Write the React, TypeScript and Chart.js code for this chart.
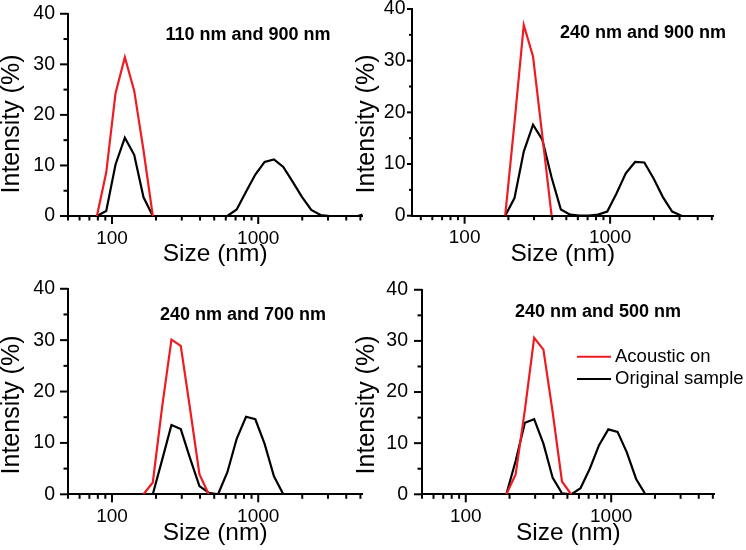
import React, { useEffect, useRef } from 'react';
import { Chart, registerables } from 'chart.js';

Chart.register(...registerables);

const FONT = '"Liberation Sans", Arial, sans-serif';
const RED = '#ee1c22';

// DLS size bins (nm)
const sizeBins = [
  78.82, 91.28, 105.7, 122.4, 141.8, 164.2, 190.1, 220.2, 255.0, 295.3,
  342.0, 396.1, 458.7, 531.2, 615.1, 712.4, 825.0, 955.4, 1106, 1281,
  1484, 1718, 1990, 2305, 2669, 3091, 3580, 4145, 4801, 5560,
];

// Intensity (%) per bin; null = not plotted
const p1Acoustic = [0, 8.6, 24.3, 31.4, 24.8, 13.0, 0, null, null, null, null, null, null, null, null, null, null, null, null, null, null, null, null, null, null, null, null, null, null, null];
const p1Original = [0, 1.0, 10.2, 15.5, 12.1, 3.7, 0, 0, 0, 0, 0, 0, 0, 0, 0, 1.3, 4.8, 8.2, 10.7, 11.2, 9.7, 6.8, 3.8, 1.2, 0.2, 0, 0, 0, 0, 0.6];

const p2Acoustic = [null, null, null, null, null, null, 0, 18.0, 36.9, 30.8, 15.5, 0, null, null, null, null, null, null, null, null, null, null, null, null, null, null, null, null, null, null];
const p2Original = [null, null, null, null, null, null, 0, 3.4, 12.4, 17.6, 14.7, 7.4, 1.2, 0.2, 0, 0, 0.2, 0.8, 4.3, 8.2, 10.4, 10.3, 7.2, 3.6, 0.8, 0, null, null, null, null];

const p3Acoustic = [null, null, null, null, null, 0, 2.3, 17.0, 30.1, 28.9, 16.6, 3.9, 0, null, null, null, null, null, null, null, null, null, null, null, null, null, null, null, null, null];
const p3Original = [null, null, null, null, null, null, 0, 6.7, 13.5, 12.7, 7.0, 1.6, 0.3, 0, 4.3, 10.8, 15.1, 14.6, 9.8, 3.5, 0, null, null, null, null, null, null, null, null, null];

const p4Acoustic = [null, null, null, null, null, null, 0, 3.9, 16.5, 30.6, 28.3, 16.0, 2.5, 0, null, null, null, null, null, null, null, null, null, null, null, null, null, null, null, null];
const p4Original = [null, null, null, null, null, null, 0, 6.5, 14.0, 14.7, 9.9, 3.2, 0.2, 0, 1.2, 5.0, 9.6, 12.7, 12.2, 8.2, 3.0, 0, null, null, null, null, null, null, null, null];

const panelTitles = ['110 nm and 900 nm', '240 nm and 900 nm', '240 nm and 700 nm', '240 nm and 500 nm'];
const seriesNames = ['Acoustic on', 'Original sample'];
const xAxisTitle = 'Size (nm)';
const yAxisTitle = 'Intensity (%)';

const xTickValues = [40, 50, 60, 70, 80, 90, 100, 200, 300, 400, 500, 600, 700, 800, 900, 1000, 2000, 3000, 4000, 5000];
const xTickLabels = [100, 1000];
const yTickLabels = [0, 10, 20, 30, 40];

const X_MAX = 5150;
const H = 275;

type PanelCfg = {
  left: number; top: number; w: number; xMin: number;
  area: { l: number; r: number; t: number; b: number };
  title: string; tx: number; ty: number; yTitleX: number; yTitleY: number; yPad: number;
  yTick: [number, number];
  acoustic: (number | null)[]; original: (number | null)[];
  legend: boolean;
};

const panels: PanelCfg[] = [
  { left: 0, top: 0, w: 373, xMin: 50, area: { l: 68, r: 362.3, t: 9, b: 216 }, title: panelTitles[0], tx: 248, ty: 34.7, yTitleX: 12.5, yTitleY: 124, yPad: 5, yTick: [8, 4.5], acoustic: p1Acoustic, original: p1Original, legend: false },
  { left: 350, top: 0, w: 396, xMin: 43.5, area: { l: 62, r: 363.7, t: 9, b: 215.7 }, title: panelTitles[1], tx: 293, ty: 33, yTitleX: 17.5, yTitleY: 124, yPad: -1.5, yTick: [5, 3], acoustic: p2Acoustic, original: p2Original, legend: false },
  { left: 0, top: 275, w: 373, xMin: 50, area: { l: 68, r: 362.3, t: 13.3, b: 219.3 }, title: panelTitles[2], tx: 243, ty: 40.5, yTitleX: 12.5, yTitleY: 130, yPad: 5, yTick: [8, 4.5], acoustic: p3Acoustic, original: p3Original, legend: false },
  { left: 350, top: 275, w: 396, xMin: 50, area: { l: 72, r: 364.7, t: 14, b: 219.3 }, title: panelTitles[3], tx: 248, ty: 37.5, yTitleX: 17.5, yTitleY: 130, yPad: 6, yTick: [8, 4.5], acoustic: p4Acoustic, original: p4Original, legend: true },
];

const toPoints = (vals: (number | null)[]) => sizeBins.map((s, i) => ({ x: s, y: vals[i] }));

const decorPlugin = {
  id: 'decor',
  afterDraw(chart: any, _args: any, opts: any) {
    const ctx = chart.ctx as CanvasRenderingContext2D;
    const ca = chart.chartArea;
    const xs = chart.scales.x;
    const ys = chart.scales.y;
    ctx.save();
    ctx.strokeStyle = '#000';
    ctx.lineWidth = 2;
    ctx.lineCap = 'butt';
    xs.ticks.forEach((t: any) => {
      const px = xs.getPixelForValue(t.value);
      const major = xTickLabels.includes(t.value);
      ctx.beginPath();
      ctx.moveTo(px, ca.bottom);
      ctx.lineTo(px, ca.bottom + (major ? 8 : 4.5));
      ctx.stroke();
    });
    ys.ticks.forEach((t: any) => {
      const py = ys.getPixelForValue(t.value);
      const major = yTickLabels.includes(t.value);
      ctx.beginPath();
      ctx.moveTo(ca.left, py);
      ctx.lineTo(ca.left - (major ? opts.yTick[0] : opts.yTick[1]), py);
      ctx.stroke();
    });
    ctx.fillStyle = '#000';
    // y axis title
    ctx.save();
    ctx.font = `25px ${FONT}`;
    ctx.textAlign = 'center';
    ctx.textBaseline = 'middle';
    ctx.translate(opts.yTitleX, opts.yTitleY);
    ctx.rotate(-Math.PI / 2);
    ctx.fillText(opts.yTitle, 0, 0);
    ctx.restore();
    // panel title
    ctx.font = `bold 18px ${FONT}`;
    ctx.textAlign = 'center';
    ctx.textBaseline = 'middle';
    ctx.fillText(opts.title, opts.tx, opts.ty);
    // legend
    if (opts.legend) {
      const ds = chart.data.datasets;
      const lx1 = 227, lx2 = 261, ltx = 265;
      const lys = [81.7, 104];
      ctx.font = `18.5px ${FONT}`;
      ctx.textAlign = 'left';
      ds.forEach((d: any, i: number) => {
        ctx.strokeStyle = d.borderColor;
        ctx.lineWidth = 2;
        ctx.beginPath();
        ctx.moveTo(lx1, lys[i]);
        ctx.lineTo(lx2, lys[i]);
        ctx.stroke();
        ctx.fillStyle = '#000';
        ctx.fillText(d.label, ltx, lys[i]);
      });
    }
    ctx.restore();
  },
};

function Panel({ cfg }: { cfg: PanelCfg }) {
  const ref = useRef<HTMLCanvasElement>(null);
  useEffect(() => {
    const canvas = ref.current!;
    const hiddenGrid = { display: true, drawOnChartArea: false, drawTicks: true, tickLength: 8, color: 'rgba(0,0,0,0)' };
    const chart = new Chart(canvas, {
      type: 'line',
      data: {
        datasets: [
          { label: seriesNames[0], data: toPoints(cfg.acoustic) as any, borderColor: RED, borderWidth: 2.2, pointRadius: 0, fill: false, tension: 0 },
          { label: seriesNames[1], data: toPoints(cfg.original) as any, borderColor: '#000', borderWidth: 2.2, pointRadius: 0, fill: false, tension: 0 },
        ],
      },
      options: {
        responsive: false,
        animation: false,
        devicePixelRatio: 1,
        layout: { padding: { left: 0, top: cfg.area.t, right: cfg.w - cfg.area.r, bottom: 0 } },
        plugins: {
          legend: { display: false },
          tooltip: { enabled: false },
          decor: { title: cfg.title, tx: cfg.tx, ty: cfg.ty, legend: cfg.legend, yTitle: yAxisTitle, yTitleX: cfg.yTitleX, yTitleY: cfg.yTitleY, yTick: cfg.yTick },
        } as any,
        scales: {
          x: {
            type: 'logarithmic',
            min: cfg.xMin,
            max: X_MAX,
            afterBuildTicks: (s: any) => {
              s.ticks = xTickValues.filter((v) => v >= cfg.xMin && v <= X_MAX).map((v) => ({ value: v }));
            },
            afterFit: (s: any) => { s.height = H - cfg.area.b; },
            ticks: {
              autoSkip: false, maxRotation: 0, minRotation: 0, padding: 3, color: '#000',
              font: { size: 19, family: FONT },
              callback: (v: any) => (xTickLabels.includes(Number(v)) ? String(v) : ''),
            },
            grid: hiddenGrid,
            border: { display: true, color: '#000', width: 2 },
            title: { display: true, text: xAxisTitle, color: '#000', font: { size: 24.5, family: FONT }, padding: { top: 0, bottom: H - (cfg.area.b + 38.5) - 14.7 } },
          } as any,
          y: {
            type: 'linear',
            min: 0,
            max: 40,
            afterFit: (s: any) => { s.width = cfg.area.l; },
            ticks: {
              stepSize: 5, autoSkip: false, padding: cfg.yPad, color: '#000',
              font: { size: 19.5, family: FONT, lineHeight: 0.9 },
              callback: (v: any) => (yTickLabels.includes(Number(v)) ? String(v) : ''),
            },
            grid: hiddenGrid,
            border: { display: true, color: '#000', width: 2 },
            title: { display: false },
          } as any,
        },
      },
      plugins: [decorPlugin as any],
    });
    return () => chart.destroy();
  }, [cfg]);
  return (
    <canvas
      ref={ref}
      width={cfg.w}
      height={H}
      style={{ position: 'absolute', left: cfg.left, top: cfg.top, width: cfg.w, height: H }}
    />
  );
}

export default function App() {
  return (
    <div style={{ position: 'absolute', left: 0, top: 0, width: 746, height: 550, background: '#fff', overflow: 'hidden' }}>
      {panels.map((p, i) => (
        <Panel key={i} cfg={p} />
      ))}
    </div>
  );
}
